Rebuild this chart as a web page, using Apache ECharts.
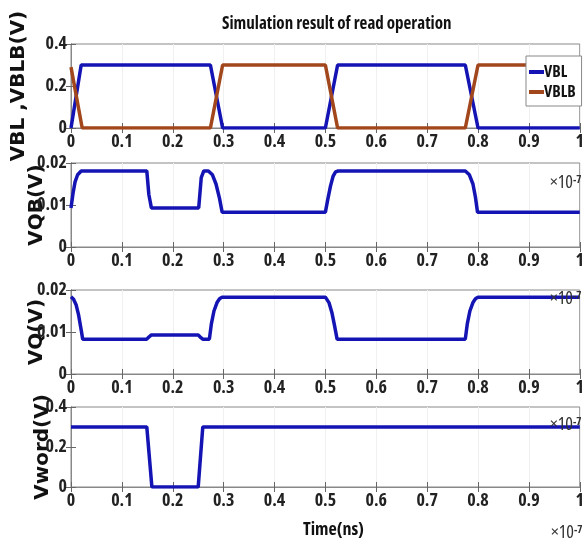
<!DOCTYPE html>
<html lang="en">
<head>
    <meta charset="UTF-8">
    <title>Simulation result of read operation</title>
    <script src="https://cdn.jsdelivr.net/npm/echarts@6/dist/echarts.min.js"></script>
    <style>
        html, body { margin: 0; padding: 0; background: #fff; }
        #chart { width: 587px; height: 547px; }
    </style>
</head>
<body>
<div id="chart"></div>
<script type="text/javascript">
    // time in units of 1e-7 s, values in volts
    var xTicks = ['0', '0.1', '0.2', '0.3', '0.4', '0.5', '0.6', '0.7', '0.8', '0.9', '1'];
    var vbl = [[0, 0], [0.02, 0.3], [0.274, 0.3], [0.298, 0], [0.5, 0], [0.524, 0.3], [0.775, 0.3], [0.8, 0], [1, 0]];
    var vblb = [[0, 0.29], [0.022, 0], [0.274, 0], [0.298, 0.3], [0.5, 0.3], [0.524, 0], [0.775, 0], [0.8, 0.3], [1, 0.3]];
    var vqb = [[0, 0.0093], [0.004, 0.0128], [0.008, 0.0155], [0.013, 0.0172], [0.02, 0.0181], [0.149, 0.0181],
        [0.153, 0.0125], [0.158, 0.0093], [0.251, 0.0093], [0.256, 0.0165], [0.261, 0.0181], [0.27, 0.0181],
        [0.278, 0.0172], [0.285, 0.0150], [0.292, 0.0115], [0.297, 0.0083], [0.5, 0.0083], [0.505, 0.0115],
        [0.51, 0.0145], [0.515, 0.0168], [0.52, 0.0179], [0.525, 0.0181], [0.775, 0.0181], [0.783, 0.0172],
        [0.79, 0.0150], [0.795, 0.0118], [0.799, 0.0083], [1, 0.0083]];
    var vq = [[0, 0.0184], [0.005, 0.0178], [0.01, 0.0165], [0.015, 0.0140], [0.02, 0.0105], [0.023, 0.0083],
        [0.149, 0.0083], [0.153, 0.0088], [0.158, 0.0093], [0.25, 0.0093], [0.254, 0.0088], [0.259, 0.0083],
        [0.272, 0.0083], [0.276, 0.0120], [0.281, 0.0150], [0.287, 0.0170], [0.292, 0.0179], [0.297, 0.0183],
        [0.5, 0.0183], [0.507, 0.0170], [0.513, 0.0145], [0.518, 0.0115], [0.523, 0.0083], [0.775, 0.0083],
        [0.779, 0.0120], [0.784, 0.0150], [0.79, 0.0170], [0.795, 0.0179], [0.8, 0.0183], [1, 0.0183]];
    var vword = [[0, 0.3], [0.149, 0.3], [0.159, 0], [0.25, 0], [0.259, 0.3], [1, 0.3]];

    var panels = [
        {name: 'VBL ,VBLB(V)', max: 0.4, step: 0.2, top: 44, height: 84, gap: 42},
        {name: 'VQB(V)', max: 0.02, step: 0.01, top: 163, height: 84, gap: 24},
        {name: 'VQ(V)', max: 0.02, step: 0.01, top: 290, height: 84, gap: 24},
        {name: 'Vword(V)', max: 0.4, step: 0.2, top: 407, height: 80, gap: 18}
    ];

    var blue = '#1414b4';
    var brown = '#a2461c';
    var narrow = '"Open Sans", Roboto, sans-serif';
    var tickFont = {color: '#222', fontSize: 18, fontFamily: narrow, fontWeight: 'bold', fontStyle: 'condensed'};

    var grids = [], xAxes = [], yAxes = [];
    panels.forEach(function (p, i) {
        grids.push({left: 71, right: 6, top: p.top, height: p.height, show: true,
            borderColor: '#888', borderWidth: 1, backgroundColor: '#fff'});
    });
    panels.forEach(function (p, i) {
        xAxes.push({
            type: 'value', gridIndex: i, min: 0, max: 1, interval: 0.1,
            axisLine: {show: true, lineStyle: {color: '#555'}},
            axisTick: {inside: true, length: 5, lineStyle: {color: '#666'}},
            splitLine: {show: true, lineStyle: {color: '#f0f0f0'}},
            axisLabel: Object.assign({margin: 5, formatter: function (v) { return xTicks[Math.round(v * 10)]; }}, tickFont)
        });
    });
    panels.forEach(function (p, i) {
        xAxes.push({
            type: 'value', gridIndex: i, min: 0, max: 1, interval: 0.1, position: 'top',
            axisLine: {show: true, lineStyle: {color: '#888'}},
            axisTick: {inside: true, length: 5, lineStyle: {color: '#666'}},
            splitLine: {show: false}, axisLabel: {show: false}
        });
    });
    panels.forEach(function (p, i) {
        yAxes.push({
            type: 'value', gridIndex: i, min: 0, max: p.max, interval: p.step,
            name: p.name, nameLocation: 'middle', nameRotate: 90, nameGap: p.gap, nameMoveOverlap: false,
            nameTextStyle: {fontSize: 20, fontWeight: 'bold', color: '#111', fontFamily: '"DejaVu Sans", sans-serif'},
            axisLine: {show: true, lineStyle: {color: '#555'}},
            axisTick: {show: true, inside: true, length: 5, lineStyle: {color: '#666'}},
            splitLine: {show: false},
            axisLabel: Object.assign({margin: 4, formatter: function (v) { return v === 0 ? '0' : String(+v.toFixed(3)); }}, tickFont)
        });
    });
    panels.forEach(function (p, i) {
        yAxes.push({
            type: 'value', gridIndex: i, min: 0, max: p.max, interval: p.step, position: 'right',
            axisLine: {show: true, lineStyle: {color: '#888'}},
            axisTick: {show: true, inside: true, length: 5, lineStyle: {color: '#666'}},
            splitLine: {show: false}, axisLabel: {show: false}
        });
    });

    function line(name, data, idx, color) {
        return {
            name: name, type: 'line', data: data, xAxisIndex: idx, yAxisIndex: idx,
            showSymbol: false, symbol: 'none', lineStyle: {width: 3.5, color: color}, itemStyle: {color: color}
        };
    }

    function sci(x, y) {
        return {
            type: 'text', left: x, top: y, z: 10,
            style: {text: '×10{s|-7}', font: 'condensed 18px ' + narrow, fill: '#333',
                rich: {s: {font: 'condensed bold 11px ' + narrow, verticalAlign: 'top', fill: '#333'}}}
        };
    }

    var chart = echarts.init(document.getElementById('chart'));
    chart.setOption({
        animation: false,
        legend: {
            data: ['VBL', 'VBLB'], orient: 'vertical', left: 526, top: 56, itemGap: 4,
            itemWidth: 15, itemHeight: 4, icon: 'rect', padding: [8, 6, 6, 3],
            backgroundColor: '#fff', borderColor: '#888', borderWidth: 1, borderRadius: 0,
            textStyle: {fontSize: 16, fontWeight: 'bold', fontStyle: 'condensed', color: '#111',
                fontFamily: narrow, padding: [0, 0, 0, -5]}
        },
        grid: grids,
        xAxis: xAxes,
        yAxis: yAxes,
        graphic: [
            {type: 'text', left: 222, top: 16, z: 10,
                style: {text: 'Simulation result of read operation', font: 'condensed bold 17px ' + narrow, fill: '#111'}},
            sci(550, 174), sci(550, 290), sci(550, 416), sci(551, 524),
            {type: 'text', left: 303, top: 521,
                style: {text: 'Time(ns)', font: 'condensed bold 18px ' + narrow, fill: '#111'}}
        ],
        series: [
            line('VBL', vbl, 0, blue),
            line('VBLB', vblb, 0, brown),
            line('VQB', vqb, 1, blue),
            line('VQ', vq, 2, blue),
            line('Vword', vword, 3, blue)
        ]
    });
</script>
</body>
</html>
